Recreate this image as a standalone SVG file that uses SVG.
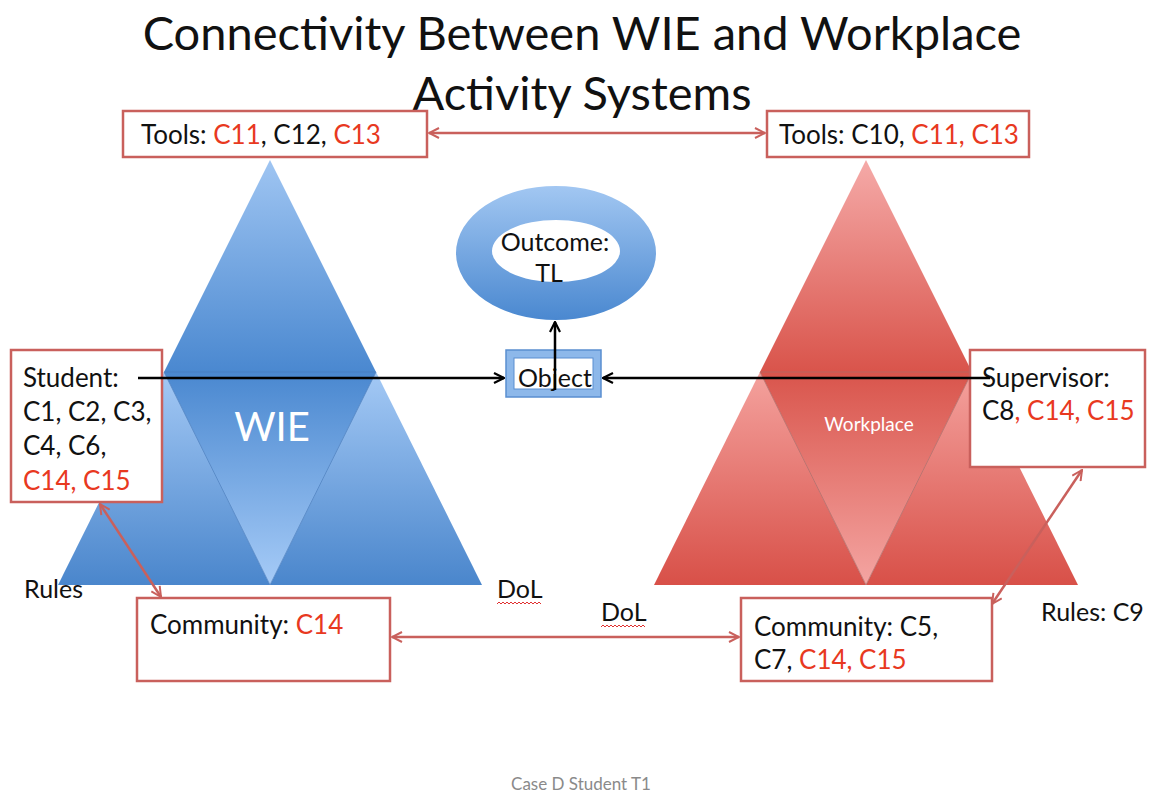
<svg xmlns="http://www.w3.org/2000/svg" width="1152" height="794" viewBox="0 0 1152 794">
<defs>
<style>
.t{font-family:Lato,"Open Sans","Liberation Sans",sans-serif;fill:#111}
.r{fill:#e8391f}
.box{fill:#fff;stroke:#c9605c;stroke-width:2.5}
.ra{stroke:#c9605c;stroke-width:2.5;fill:none}
.ba{stroke:#000;stroke-width:2.5;fill:none}
.wavy{stroke:#e03030;stroke-width:1;fill:none}
</style>
<marker id="mr" viewBox="0 0 12 12" refX="11" refY="6" markerWidth="12" markerHeight="12" markerUnits="userSpaceOnUse" orient="auto-start-reverse">
<path d="M1,1 L11,6 L1,11" fill="none" stroke="#c9605c" stroke-width="2"/>
</marker>
<marker id="mb" viewBox="0 0 12 12" refX="11" refY="6" markerWidth="12" markerHeight="12" markerUnits="userSpaceOnUse" orient="auto-start-reverse">
<path d="M1,1 L11,6 L1,11" fill="none" stroke="#000" stroke-width="2.2"/>
</marker>
<linearGradient id="bTop" gradientUnits="userSpaceOnUse" x1="0" y1="160" x2="0" y2="372"><stop offset="0" stop-color="#9fc5f2"/><stop offset="1" stop-color="#4a88d0"/></linearGradient>
<linearGradient id="bCor" gradientUnits="userSpaceOnUse" x1="0" y1="372" x2="0" y2="585"><stop offset="0" stop-color="#a4c9f5"/><stop offset="1" stop-color="#4a86cc"/></linearGradient>
<linearGradient id="bIn" gradientUnits="userSpaceOnUse" x1="0" y1="372" x2="0" y2="585"><stop offset="0" stop-color="#4a88d0"/><stop offset="1" stop-color="#a6cbf7"/></linearGradient>
<linearGradient id="rTop" gradientUnits="userSpaceOnUse" x1="0" y1="160" x2="0" y2="372"><stop offset="0" stop-color="#f5aaa8"/><stop offset="1" stop-color="#d9544b"/></linearGradient>
<linearGradient id="rCor" gradientUnits="userSpaceOnUse" x1="0" y1="372" x2="0" y2="585"><stop offset="0" stop-color="#f4a29e"/><stop offset="1" stop-color="#d85048"/></linearGradient>
<linearGradient id="rIn" gradientUnits="userSpaceOnUse" x1="0" y1="372" x2="0" y2="585"><stop offset="0" stop-color="#d9554c"/><stop offset="1" stop-color="#f4a5a2"/></linearGradient>
<linearGradient id="ring" gradientUnits="userSpaceOnUse" x1="0" y1="186" x2="0" y2="320"><stop offset="0" stop-color="#a2c7f2"/><stop offset="1" stop-color="#4a88d0"/></linearGradient>
</defs>
<rect width="1152" height="794" fill="#fff"/>

<g id="title">
<text class="t" x="582" y="50" font-size="47" text-anchor="middle">Connectivity Between WIE and Workplace</text>
<text class="t" x="582" y="110" font-size="47" text-anchor="middle">Activity Systems</text>
</g>

<g id="wie-triangle">
<polygon points="270,160 164,372 376,372" fill="url(#bTop)"/>
<polygon points="164,372 58,585 270,585" fill="url(#bCor)"/>
<polygon points="376,372 482,585 270,585" fill="url(#bCor)"/>
<polygon points="164,372 376,372 270,585" fill="url(#bIn)" stroke="#4a7fc0" stroke-width="0.8"/>
<text x="272" y="441" font-size="40" text-anchor="middle" fill="#fff" font-family="Lato,'Open Sans',sans-serif">WIE</text>
</g>

<g id="workplace-triangle">
<polygon points="866,160 760,372 972,372" fill="url(#rTop)"/>
<polygon points="760,372 654,585 866,585" fill="url(#rCor)"/>
<polygon points="972,372 1078,585 866,585" fill="url(#rCor)"/>
<polygon points="760,372 972,372 866,585" fill="url(#rIn)" stroke="#b06a66" stroke-width="0.8"/>
<text x="869" y="431" font-size="19" text-anchor="middle" fill="#fff" font-family="Lato,'Open Sans',sans-serif">Workplace</text>
</g>

<g id="outcome">
<path d="M456,253 a100,67 0 1,0 200,0 a100,67 0 1,0 -200,0 Z M492,251 a64,31 0 1,0 128,0 a64,31 0 1,0 -128,0 Z" fill="url(#ring)" fill-rule="evenodd"/>
<text class="t" x="555" y="251" font-size="25" text-anchor="middle">Outcome:</text>
<text class="t" x="549" y="282" font-size="25" text-anchor="middle">TL</text>
</g>

<g id="object">
<rect x="506" y="350" width="95" height="47" fill="#8db8ea" stroke="#5a8ed0" stroke-width="1.5"/>
<rect x="514" y="358" width="79" height="31" fill="#fff" stroke="#5a8ed0" stroke-width="1"/>
<text class="t" x="555" y="387" font-size="25" text-anchor="middle">Object</text>
</g>

<g id="tools-wie">
<rect class="box" x="123" y="111" width="304" height="46"/>
<text class="t" x="141" y="144" font-size="26">Tools: <tspan class="r">C11</tspan>, C12, <tspan class="r">C13</tspan></text>
</g>

<g id="tools-workplace">
<rect class="box" x="767" y="111" width="262" height="46"/>
<text class="t" x="779" y="144" font-size="26">Tools: C10, <tspan class="r">C11, C13</tspan></text>
</g>

<g id="student">
<rect class="box" x="11" y="350" width="151" height="152"/>
<text class="t" font-size="26"><tspan x="23" y="387">Student:</tspan><tspan x="23" y="421">C1, C2, C3,</tspan><tspan x="23" y="455">C4, C6,</tspan><tspan x="23" y="490" class="r">C14, C15</tspan></text>
</g>

<g id="supervisor">
<rect class="box" x="970" y="350" width="175" height="117"/>
<text class="t" font-size="26"><tspan x="982" y="387">Supervisor:</tspan><tspan x="982" y="420">C8<tspan class="r">, C14, C15</tspan></tspan></text>
</g>

<g id="community-wie">
<rect class="box" x="137" y="598" width="253" height="83"/>
<text class="t" x="150" y="634" font-size="26">Community: <tspan class="r">C14</tspan></text>
</g>

<g id="community-workplace">
<rect class="box" x="741" y="598" width="251" height="83"/>
<text class="t" font-size="26"><tspan x="754" y="636">Community: C5,</tspan><tspan x="754" y="669">C7, <tspan class="r">C14, C15</tspan></tspan></text>
</g>

<g id="labels">
<text class="t" x="24" y="598" font-size="25">Rules</text>
<text class="t" x="497" y="598" font-size="25">DoL</text>
<path class="wavy" d="M497,604 l2,-2 l2,2 l2,-2 l2,2 l2,-2 l2,2 l2,-2 l2,2 l2,-2 l2,2 l2,-2 l2,2 l2,-2 l2,2 l2,-2 l2,2 l2,-2 l2,2 l2,-2 l2,2 l2,-2 l2,2"/>
<text class="t" x="601" y="621" font-size="25">DoL</text>
<path class="wavy" d="M601,627 l2,-2 l2,2 l2,-2 l2,2 l2,-2 l2,2 l2,-2 l2,2 l2,-2 l2,2 l2,-2 l2,2 l2,-2 l2,2 l2,-2 l2,2 l2,-2 l2,2 l2,-2 l2,2 l2,-2 l2,2"/>
<text class="t" x="1041" y="621" font-size="25">Rules: C9</text>
<text x="581" y="790" font-size="17" text-anchor="middle" fill="#8a8a8a" font-family="Lato,'Open Sans',sans-serif">Case D Student T1</text>
</g>

<g id="connectors">
<line class="ra" x1="429" y1="133" x2="765" y2="133" marker-start="url(#mr)" marker-end="url(#mr)"/>
<line class="ra" x1="392" y1="637" x2="739" y2="637" marker-start="url(#mr)" marker-end="url(#mr)"/>
<line class="ra" x1="100" y1="504" x2="161" y2="597" marker-start="url(#mr)" marker-end="url(#mr)"/>
<line class="ra" x1="1082" y1="470" x2="992" y2="604" marker-start="url(#mr)" marker-end="url(#mr)"/>
<line class="ba" x1="138" y1="378" x2="504" y2="378" marker-end="url(#mb)"/>
<line class="ba" x1="990" y1="378" x2="603" y2="378" marker-end="url(#mb)"/>
<line class="ba" x1="555" y1="390" x2="555" y2="322" marker-end="url(#mb)"/>
</g>
</svg>
